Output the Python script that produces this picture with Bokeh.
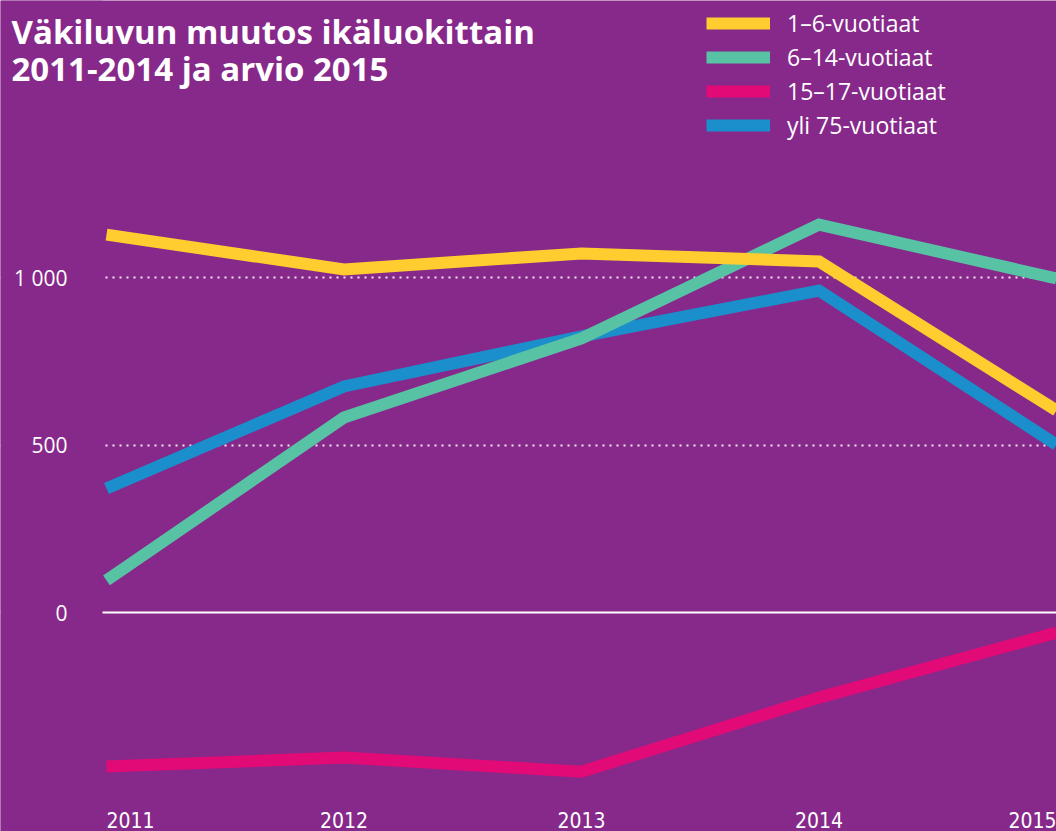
from bokeh.plotting import figure
from bokeh.models import (Range1d, FixedTicker, Span, Label, LabelSet, ColumnDataSource,
                          Legend, LegendItem, BoxAnnotation)
from bokeh.core.properties import value
from bokeh.embed import file_html
from bokeh.resources import INLINE

years = [2011, 2012, 2013, 2014, 2015]
year_labels = ["2011", "2012", "2013", "2014", "2015"]
age_1_6 = [1128, 1024, 1072, 1048, 603]
age_6_14 = [96, 582, 818, 1158, 997]
age_15_17 = [-460, -433, -475, -254, -60]
age_75_plus = [370, 675, 824, 961, 501]
series_names = ["1–6-vuotiaat", "6–14-vuotiaat", "15–17-vuotiaat", "yli 75-vuotiaat"]
y_ticks = [0, 500, 1000]
y_tick_labels = ["0", "500", "1 000"]
title_lines = ["Väkiluvun muutos ikäluokittain", "2011-2014 ja arvio 2015"]

BG = "#87298A"
YELLOW = "#FFCD2F"
GREEN = "#58C2A4"
PINK = "#E20A77"
BLUE = "#1A8FCB"
FONT = "Open Sans"

W, H = 1056, 831
p = figure(width=W, height=H, output_backend="svg", toolbar_location=None,
           x_range=Range1d(2010.5537, 2015), y_range=Range1d(-653.7, 1826.9),
           background_fill_color=BG, border_fill_color=BG, outline_line_color=None,
           min_border_left=0, min_border_right=0, min_border_top=0, min_border_bottom=0)

p.xaxis.visible = False
p.yaxis.visible = False
p.xgrid.visible = False

p.ygrid.ticker = FixedTicker(ticks=[500, 1000])
p.ygrid.grid_line_color = "white"
p.ygrid.grid_line_width = 2
p.ygrid.grid_line_dash = "2 5"
p.ygrid.grid_line_alpha = 0.9

p.add_layout(Span(location=0, dimension="width", line_color="white", line_width=2,
                  level="underlay"))

lw = 12
r_pink = p.line(years, age_15_17, line_color=PINK, line_width=lw, line_join="miter", line_cap="butt")
r_blue = p.line(years, age_75_plus, line_color=BLUE, line_width=lw, line_join="miter", line_cap="butt")
r_green = p.line(years, age_6_14, line_color=GREEN, line_width=lw, line_join="miter", line_cap="butt")
r_yellow = p.line(years, age_1_6, line_color=YELLOW, line_width=lw, line_join="miter", line_cap="butt")

# cover the rules in the label gutter on the left
p.add_layout(BoxAnnotation(left=0, left_units="screen", right=102, right_units="screen",
                           fill_color=BG, fill_alpha=1, line_color=None))

legend = Legend(items=[LegendItem(label=series_names[0], renderers=[r_yellow]),
                       LegendItem(label=series_names[1], renderers=[r_green]),
                       LegendItem(label=series_names[2], renderers=[r_pink]),
                       LegendItem(label=series_names[3], renderers=[r_blue])],
                location=(706, 689), orientation="vertical",
                background_fill_alpha=0, border_line_color=None,
                glyph_width=64, glyph_height=34, label_height=34, spacing=0,
                padding=0, margin=0, label_standoff=17,
                label_text_color="white", label_text_font=FONT,
                label_text_font_size="23px", label_text_baseline="middle")
p.add_layout(legend, "center")

for txt, yy in zip(title_lines, [800, 763]):
    p.add_layout(Label(x=11, y=yy, x_units="screen", y_units="screen", text=txt,
                       text_color="white", text_font=FONT, text_font_style="bold",
                       text_font_size="33px", text_baseline="alphabetic"))

yl_src = ColumnDataSource(dict(y=y_ticks, text=y_tick_labels))
p.add_layout(LabelSet(x=67, x_units="screen", y="y", text="text", source=yl_src,
                      text_align="right", text_baseline="middle", text_color="white",
                      text_font=value(FONT), text_font_size="21px"))

xl_src = ColumnDataSource(dict(x=years, text=year_labels,
                               align=["left", "center", "center", "center", "right"]))
p.add_layout(LabelSet(x="x", y=12, y_units="screen", text="text", source=xl_src,
                      text_align="align", text_baseline="middle", text_color="white",
                      text_font=value("DejaVu Sans Condensed"), text_font_size="21px"))

open("out.html", "w").write(file_html(p, INLINE))
